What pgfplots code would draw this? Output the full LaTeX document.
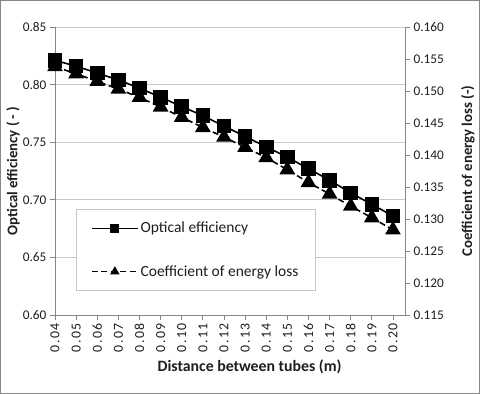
\documentclass[border=0pt]{standalone}
\usepackage{fontspec}
\setmainfont{Carlito}
\usepackage{pgfplots}
\usepackage{pgfplotstable}
\pgfplotsset{compat=1.18}

\definecolor{axgray}{RGB}{134,134,134}
\definecolor{gridgray}{RGB}{200,200,200}
\definecolor{txt}{RGB}{30,30,30}

\pgfplotstableread{
x     opt    coef
0.04  0.821  0.1538
0.05  0.816  0.1527
0.06  0.810  0.1515
0.07  0.804  0.1503
0.08  0.797  0.1490
0.09  0.789  0.1475
0.10  0.781  0.1459
0.11  0.773  0.1443
0.12  0.764  0.1428
0.13  0.755  0.1412
0.14  0.746  0.1396
0.15  0.737  0.1377
0.16  0.727  0.1357
0.17  0.717  0.1339
0.18  0.706  0.1320
0.19  0.696  0.1302
0.20  0.686  0.1283
}\datatable

\pgfplotsset{
  optstyle/.style={black, line width=1.6bp, mark=square*, mark size=6.5bp, mark options={solid}},
  coefstyle/.style={black, line width=1.6bp, dash pattern=on 6bp off 3.5bp, mark=triangle*, mark size=7.5bp, mark options={solid}},
  common/.style={
    scale only axis, width=350bp, height=288bp,
    xmin=0.04, xmax=0.2057,
    font=\fontsize{13.3bp}{16bp}\selectfont,
    /pgf/number format/assume math mode=true,
    axis line style={axgray, line width=0.8bp},
    tick style={axgray, line width=0.8bp},
    major tick length=5bp,
    tick align=outside,
    ticklabel style={txt},
    label style={font=\fontsize{14.8bp}{17bp}\selectfont\bfseries, txt},
  },
}

\begin{document}
\begin{tikzpicture}
\begin{axis}[
  common,
  axis x line*=bottom, axis y line*=left,
  ymin=0.60, ymax=0.85,
  ytick={0.60,0.65,0.70,0.75,0.80,0.85},
  yticklabel style={/pgf/number format/.cd, fixed, fixed zerofill, precision=2},
  xtick={0.04,0.05,0.06,0.07,0.08,0.09,0.10,0.11,0.12,0.13,0.14,0.15,0.16,0.17,0.18,0.19,0.20},
  xticklabels={0.04,0.05,0.06,0.07,0.08,0.09,0.10,0.11,0.12,0.13,0.14,0.15,0.16,0.17,0.18,0.19,0.20},
  xticklabel style={rotate=90, anchor=east, font=\fontsize{13.8bp}{16bp}\selectfont\addfontfeatures{LetterSpace=10}},
  ymajorgrids,
  grid style={gridgray, line width=0.8bp},
  xlabel={Distance between tubes (m)},
  xlabel style={at={(axis description cs:0.556,-0.18)}, anchor=center, font=\fontsize{15.8bp}{18bp}\selectfont\bfseries},
  ylabel={Optical efficiency ( - )},
  ylabel style={at={(axis description cs:-0.12,0.5)}, anchor=center},
]
\addplot[optstyle] table[x=x, y=opt] {\datatable};
\end{axis}
\begin{axis}[
  common,
  axis x line=none, axis y line*=right,
  ymin=0.115, ymax=0.160,
  ytick={0.115,0.120,0.125,0.130,0.135,0.140,0.145,0.150,0.155,0.160},
  yticklabel style={/pgf/number format/.cd, fixed, fixed zerofill, precision=3},
  ylabel={Coefficient of energy loss (-)},
  ylabel style={at={(axis description cs:1.18,0.5)}, anchor=center},
  legend cell align=left,
  legend style={at={(axis description cs:0.059,0.367)}, anchor=north west,
    draw=gray!45, line width=0.8bp, fill=white, text=txt,
    font=\fontsize{15.5bp}{18bp}\selectfont,
    inner xsep=15bp, inner ysep=10.5bp, row sep=27bp},
  legend image code/.code={\draw[mark repeat=2, mark phase=2, #1, mark size=3.8bp, line width=1.6bp] plot coordinates {(0bp,0bp) (23bp,0bp) (46bp,0bp)};},
]
\addlegendimage{optstyle}
\addlegendentry{Optical efficiency}
\addplot[coefstyle] table[x=x, y=coef] {\datatable};
\addlegendentry{Coefficient of energy loss}
\end{axis}
\draw[axgray, line width=1bp] (-54.5bp,-78.5bp) rectangle (424.5bp,314.5bp);
\end{tikzpicture}
\end{document}
